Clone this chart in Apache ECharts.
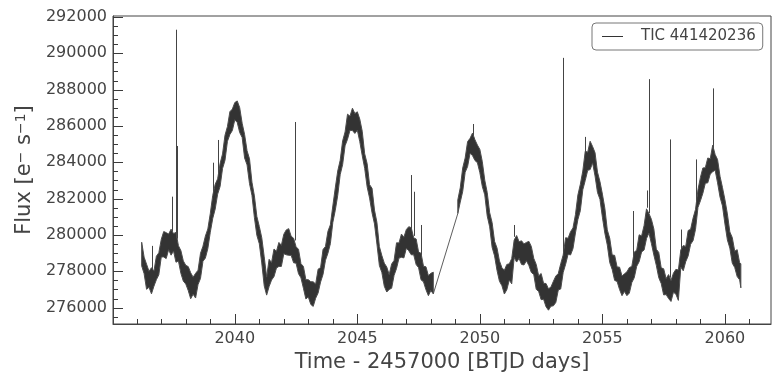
<!DOCTYPE html>
<html><head><meta charset="utf-8">
<script src="https://cdn.jsdelivr.net/npm/echarts@6/dist/echarts.min.js"></script>
<style>html,body{margin:0;padding:0;background:#fff}#c{width:780px;height:382px}</style>
</head><body><div id="c"></div>
<script>
const seriesName = 'TIC 441420236';
// Segment 1 (before the data gap): time [BTJD], upper and lower envelope of the noisy flux
const time1 = [2036.2,2036.3,2036.4,2036.5,2036.6,2036.7,2036.8,2036.9,2037.0,2037.1,
2037.2,2037.3,2037.4,2037.5,2037.6,2037.7,2037.8,2037.9,2038.0,2038.1,
2038.2,2038.3,2038.4,2038.5,2038.6,2038.7,2038.8,2038.9,2039.0,2039.1,
2039.2,2039.3,2039.4,2039.5,2039.6,2039.7,2039.8,2039.9,2040.0,2040.1,
2040.2,2040.3,2040.4,2040.5,2040.6,2040.7,2040.8,2040.9,2041.0,2041.1,
2041.2,2041.3,2041.4,2041.5,2041.6,2041.7,2041.8,2041.9,2042.0,2042.1,
2042.2,2042.3,2042.4,2042.5,2042.6,2042.7,2042.8,2042.9,2043.0,2043.1,
2043.2,2043.3,2043.4,2043.5,2043.6,2043.7,2043.8,2043.9,2044.0,2044.1,
2044.2,2044.3,2044.4,2044.5,2044.6,2044.7,2044.8,2044.9,2045.0,2045.1,
2045.2,2045.3,2045.4,2045.5,2045.6,2045.7,2045.8,2045.9,2046.0,2046.1,
2046.2,2046.3,2046.4,2046.5,2046.6,2046.7,2046.8,2046.9,2047.0,2047.1,
2047.2,2047.3,2047.4,2047.5,2047.6,2047.7,2047.8,2047.9,2048.0,2048.1];
const fluxHi1 = [279600,278780,278390,278000,278200,278010,278830,279020,279760,280190,
280130,280050,280320,280080,280140,279410,279140,278570,278330,278260,
277920,277680,277890,278060,278990,279380,279940,280330,281180,282180,
282790,283090,283930,284460,285490,285970,286790,286930,287290,287380,
287010,286150,285530,284640,284190,282910,282150,281020,280470,279850,
278800,277680,278660,278480,279230,279100,279590,279430,280040,280280,
280350,279930,279820,279350,279210,278420,278270,277540,277540,277430,
277420,277300,278120,278200,279200,279370,280200,280560,281600,282590,
283520,284110,285180,285670,286650,286540,286980,286690,286780,286380,
285710,284470,283930,282770,282570,281370,280690,279360,278870,278450,
278240,277820,278400,278600,279570,279560,280050,279880,280300,280460,
280400,279840,279780,279060,278990,278280,278250,277760,277890,277950];
const fluxLo1 = [278300,277870,277010,277120,276760,277180,277540,277810,278790,278790,
278700,279190,278890,279120,278500,278570,277890,277460,277300,276940,
276490,276740,276530,277270,277610,278550,278730,279250,280150,280910,
281430,282250,282670,283660,284110,285160,285530,285750,286340,286190,
285640,285370,284240,283860,282830,282190,280960,279980,279520,278460,
277200,276690,277160,277520,277710,278180,278270,278270,278970,278910,
278880,278880,278470,278450,277870,277640,277070,276480,276590,276180,
276070,276520,276810,277410,277830,278610,279000,279520,280690,281360,
282180,283320,283880,284910,285270,285760,285750,285590,285770,285140,
284370,283670,282650,282030,281220,280610,279500,278320,277940,277180,
276860,277000,277070,277780,278160,278730,278770,278740,279270,279130,
278910,278910,278370,278200,277530,277420,276990,276660,276940,276760];
// Segment 2 (after the gap)
const time2 = [2049.1,2049.2,2049.3,2049.4,2049.5,2049.6,2049.7,2049.8,2049.9,2050.0,
2050.1,2050.2,2050.3,2050.4,2050.5,2050.6,2050.7,2050.8,2050.9,2051.0,
2051.1,2051.2,2051.3,2051.4,2051.5,2051.6,2051.7,2051.8,2051.9,2052.0,
2052.1,2052.2,2052.3,2052.4,2052.5,2052.6,2052.7,2052.8,2052.9,2053.0,
2053.1,2053.2,2053.3,2053.4,2053.5,2053.6,2053.7,2053.8,2053.9,2054.0,
2054.1,2054.2,2054.3,2054.4,2054.5,2054.6,2054.7,2054.8,2054.9,2055.0,
2055.1,2055.2,2055.3,2055.4,2055.5,2055.6,2055.7,2055.8,2055.9,2056.0,
2056.1,2056.2,2056.3,2056.4,2056.5,2056.6,2056.7,2056.8,2056.9,2057.0,
2057.1,2057.2,2057.3,2057.4,2057.5,2057.6,2057.7,2057.8,2057.9,2058.0,
2058.1,2058.2,2058.3,2058.4,2058.5,2058.6,2058.7,2058.8,2058.9,2059.0,
2059.1,2059.2,2059.3,2059.4,2059.5,2059.6,2059.7,2059.8,2059.9,2060.0,
2060.1,2060.2,2060.3,2060.4,2060.5,2060.6,2060.65];
const fluxHi2 = [281930,282600,283690,284240,285140,285320,285610,285240,284950,284710,
284030,283020,282340,281230,280680,279650,279280,278570,278200,278060,
278380,278410,278700,279720,279970,279630,279680,279510,279590,279650,
279370,278710,278380,277750,277880,277340,277330,277040,277130,277450,
277740,277880,278420,278900,279850,279820,280180,280390,281120,282200,
282790,283520,284610,284560,285160,284870,284530,283460,282940,282250,
281470,280280,279820,278900,278880,278240,278230,277740,277860,277970,
278210,278270,279060,279160,280010,279950,280510,281440,281180,280860,
280330,279220,279040,278190,278140,277600,277820,277500,277900,278110,
278070,279180,279420,279370,280250,280310,280930,281410,282490,283170,
283690,283700,284240,284190,284940,284430,284150,283230,282610,281940,
281160,280170,279860,279110,279190,278470,278420];
const fluxLo2 = [281180,281810,282400,283450,283770,284500,284370,284100,283980,283430,
282670,282210,281050,280450,279320,278850,278050,277450,277210,276750,
276990,277520,277310,278760,278510,278710,278380,278350,278580,278320,
277940,277820,277010,276890,276440,276460,276050,275860,276080,276100,
276290,276970,277030,277940,278390,278940,278900,279250,280110,280850,
281340,282490,283000,283560,283600,283970,283250,282340,281970,280980,
280100,279450,278480,278100,277500,277440,277000,276660,276890,276660,
276800,277380,277650,278280,278530,279070,279170,279800,280110,279530,
278900,278330,277650,277330,276700,276720,276500,276340,276850,276740,
276400,278230,278030,278530,278850,279490,279690,280310,281520,281880,
282300,282850,282870,283350,283480,283570,282870,282090,281600,280610,
279730,279280,278450,278210,277710,277530,277090];
// Single-cadence flares / outliers: time, band level at that time, peak flux
const spikeTime = [2036.64,2037.42,2037.60,2037.63,2039.13,2039.31,2042.45,2047.17,2047.32,2047.58,2049.70,2051.40,2053.39,2054.28,2056.24,2056.80,2056.89,2057.77,2058.20,2058.82,2059.52];
const spikeBase = [277900,280200,279900,279800,281900,283100,279700,280200,279950,278800,285450,279900,278900,284400,278600,281500,281200,277650,279200,281600,284600];
const spikePeak = [279400,282110,291300,284900,283980,285230,286220,283300,282380,280550,286110,280550,289750,285400,281320,282450,288580,285260,280300,284160,288070];
// Axis ticks
const xTicks = [2040,2045,2050,2055,2060];
const xMinorTicks = [2036,2037,2038,2039,2041,2042,2043,2044,2046,2047,2048,2049,2051,2052,2053,2054,2056,2057,2058,2059,2061];
const yTicks = [276000,278000,280000,282000,284000,286000,288000,290000,292000];
const yMinorTicks = [275500,276500,277000,277500,278500,279000,279500,280500,281000,281500,282500,283000,283500,284500,285000,285500,286500,287000,287500,288500,289000,289500,290500,291000,291500];

const X_MIN = 2035.03, X_MAX = 2061.88, Y_MIN = 275100, Y_MAX = 292055;
const ink = '#333333', axisColor = '#444444', tickColor = '#3a3a3a', textColor = '#444444';
const FONT = 'DejaVu Sans';
const MAJOR_LEN = 10, MINOR_LEN = 5;

const segments = [
  {t: time1, hi: fluxHi1, lo: fluxLo1},
  {t: time2, hi: fluxHi2, lo: fluxLo2}
];

function bandItem(params, api) {
  const seg = segments[params.dataIndex];
  const pts = [];
  for (let i = 0; i < seg.t.length; i++) pts.push(api.coord([seg.t[i], seg.hi[i]]));
  for (let i = seg.t.length - 1; i >= 0; i--) pts.push(api.coord([seg.t[i], seg.lo[i]]));
  return {type: 'polygon', shape: {points: pts}, style: {fill: ink, stroke: '#4d4d4d', lineWidth: 1}};
}
function spikeItem(params, api) {
  const a = api.coord([api.value(0), api.value(1)]);
  const b = api.coord([api.value(0), api.value(2)]);
  const x = Math.round(a[0]) + 0.5;
  return {type: 'line', shape: {x1: x, y1: a[1], x2: x, y2: b[1]}, style: {stroke: '#444', lineWidth: 1}};
}
function xTickItem(len) {
  return function (params, api) {
    const p = api.coord([api.value(0), api.value(1)]);
    const x = Math.round(p[0]) + 0.5;
    return {type: 'line', shape: {x1: x, y1: p[1], x2: x, y2: p[1] - len}, style: {stroke: tickColor, lineWidth: 1}};
  };
}
function yTickItem(len) {
  return function (params, api) {
    const p = api.coord([api.value(0), api.value(1)]);
    const y = Math.round(p[1]) + 0.5;
    return {type: 'line', shape: {x1: p[0], y1: y, x2: p[0] + len, y2: y}, style: {stroke: tickColor, lineWidth: 1}};
  };
}

const chart = echarts.init(document.getElementById('c'), null, {renderer: 'canvas'});
try {
chart.setOption({
  animation: false,
  backgroundColor: '#ffffff',
  textStyle: {fontFamily: FONT},
  grid: {left: 113, top: 16, width: 658, height: 308, show: true, borderColor: axisColor, borderWidth: 1, backgroundColor: 'transparent', containLabel: false},
  legend: {
    data: [seriesName], left: 592, top: 23, orient: 'horizontal',
    padding: [6, 7, 6, 10], borderColor: '#777', borderWidth: 1, borderRadius: 4, backgroundColor: '#fff',
    icon: 'rect', itemWidth: 21, itemHeight: 1,
    textStyle: {fontFamily: FONT, fontSize: 15, color: textColor, padding: [0, 0, 0, 13]}
  },
  xAxis: {
    type: 'value', min: X_MIN, max: X_MAX, position: 'bottom', splitLine: {show: false},
    axisLine: {show: true, onZero: false, lineStyle: {color: axisColor, width: 1}},
    axisTick: {show: false},
    axisLabel: {show: true, customValues: xTicks, fontSize: 16, color: textColor, margin: 7, fontFamily: FONT, formatter: v => String(v)},
    name: 'Time - 2457000 [BTJD days]', nameLocation: 'middle', nameGap: 25,
    nameTextStyle: {fontSize: 21, color: textColor, fontFamily: FONT}
  },
  yAxis: {
    type: 'value', min: Y_MIN, max: Y_MAX, position: 'left', splitLine: {show: false},
    axisLine: {show: true, onZero: false, lineStyle: {color: axisColor, width: 1}},
    axisTick: {show: false},
    axisLabel: {show: true, customValues: yTicks, fontSize: 16, color: textColor, margin: 6, fontFamily: FONT, formatter: v => String(v)},
    name: 'Flux [e{sup|−} s{sup|−1}]', nameLocation: 'middle', nameGap: 74,
    nameTextStyle: {fontSize: 21, color: textColor, fontFamily: FONT,
      rich: {sup: {fontSize: 14, color: textColor, fontFamily: FONT, verticalAlign: 'top', lineHeight: 14}}}
  },
  series: [
    {
      name: seriesName, type: 'line',
      data: [[time1[time1.length - 1], fluxLo1[fluxLo1.length - 1]], [time2[0], fluxLo2[0]]],
      symbol: 'none', lineStyle: {color: ink, width: 0.8}, itemStyle: {color: ink}, z: 3
    },
    {type: 'custom', name: 'spikes', renderItem: spikeItem, clip: true,
      data: spikeTime.map((t, i) => [t, spikeBase[i], spikePeak[i]]), encode: {x: 0, y: [1, 2]}, z: 2},
    {type: 'custom', name: 'band', renderItem: bandItem, clip: true,
      data: segments.map(s => [s.t[0], s.hi[0]]), encode: {x: 0, y: 1}, z: 4},
    {type: 'custom', name: 'xMajor', renderItem: xTickItem(MAJOR_LEN), clip: true,
      data: xTicks.map(v => [v, Y_MIN, Y_MIN]), encode: {x: 0, y: [1, 2]}, z: 6},
    {type: 'custom', name: 'xMinor', renderItem: xTickItem(MINOR_LEN), clip: true,
      data: xMinorTicks.map(v => [v, Y_MIN, Y_MIN]), encode: {x: 0, y: [1, 2]}, z: 6},
    {type: 'custom', name: 'yMajor', renderItem: yTickItem(MAJOR_LEN), clip: true,
      data: yTicks.map(v => [X_MIN, v, v]), encode: {x: 0, y: [1, 2]}, z: 6},
    {type: 'custom', name: 'yMinor', renderItem: yTickItem(MINOR_LEN), clip: true,
      data: yMinorTicks.map(v => [X_MIN, v, v]), encode: {x: 0, y: [1, 2]}, z: 6}
  ]
});
} catch (e) { console.error(e); }
</script></body></html>
